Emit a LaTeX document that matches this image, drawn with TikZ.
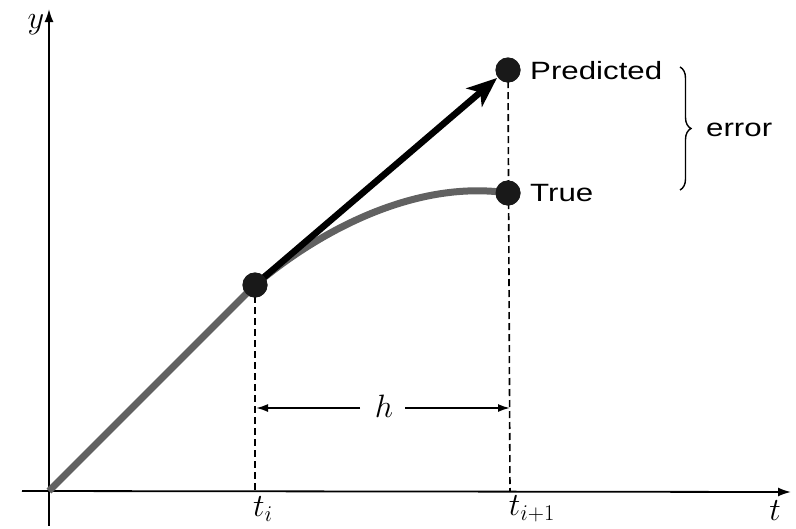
\documentclass[tikz,border=0pt]{standalone}
\usepackage{fontspec}
\newfontfamily\widesans[FakeStretch=1.25]{Liberation Sans}
\usetikzlibrary{arrows.meta,decorations.pathreplacing}
\newcommand{\mylab}[1]{\scalebox{1.3}{\fontsize{24}{26}\selectfont$#1$}}
\begin{document}
\begin{tikzpicture}[x=1pt,y=-1pt,
  axis/.style={line width=1.8pt,-{Latex[length=13pt,width=9pt]}},
  guide/.style={line width=1.6pt,dash pattern=on 7pt off 4pt},
  dot/.style={circle,fill=black!90,inner sep=0pt,minimum size=25pt},
  lbl/.style={font=\widesans\fontsize{25}{28}\selectfont,anchor=west,inner sep=0pt},
  mlbl/.style={inner sep=0pt},
  harrow/.style={line width=1.8pt,-{Latex[length=12pt,width=8pt]}}]
\useasboundingbox (0,0) rectangle (796,528);
\coordinate (O) at (49,491);
\coordinate (ytop) at (49,9);
\coordinate (ybot) at (49,526);
\coordinate (tstart) at (22,491);
\coordinate (tend) at (791,492);
\draw[line width=1.8pt] (O) -- (ybot);
\draw[axis] (O) -- (ytop);
\draw[axis] (tstart) -- (tend);
\node[mlbl] (ylab) at (36,25) {\mylab{y}};
\node[mlbl] (tlab) at (775,511) {\mylab{t}};
% curve
\node[dot] (ti) at (255,285) {};
\node[dot] (pred) at (508,70) {};
\node[dot] (true) at (508,193) {};
% dashed guides
\coordinate (tiax) at (255,491);
\coordinate (ti1ax) at (510,491);
\draw[guide] (ti.center) -- (tiax);
\draw[guide] (pred.center) -- (ti1ax);
\draw[line width=7pt,black!62] (O) .. controls (120,420) and (200,340) .. (ti.center)
  .. controls (325,226) and (420,180) .. (true.center);
\draw[line width=6.5pt,-{Stealth[length=30pt,width=24pt,inset=8pt]}] (ti.center) -- (497,78);
\node[dot] at (ti) {};
\node[dot] at (true) {};
\node[dot] at (pred) {};
\node[mlbl] (tilab) at (263,509) {\mylab{t_i}};
\node[mlbl] (ti1lab) at (532,509) {\mylab{t_{i+1}}};
% h
\coordinate (hl) at (256,408);
\coordinate (hr) at (510,408);
\node[mlbl] (h) at (384,406) {\mylab{h}};
\draw[harrow] (360,408) -- (hl);
\draw[harrow] (405,408) -- (hr);
% labels
\node[lbl] (plab) at (530,71) {Predicted};
\node[lbl] (tlabl) at (530,193) {True};
\draw[line width=1.4pt,decorate,decoration={brace,amplitude=11pt}] (680,67) -- (680,190);
\node[lbl] (err) at (706,130) {error};
\end{tikzpicture}
\end{document}
